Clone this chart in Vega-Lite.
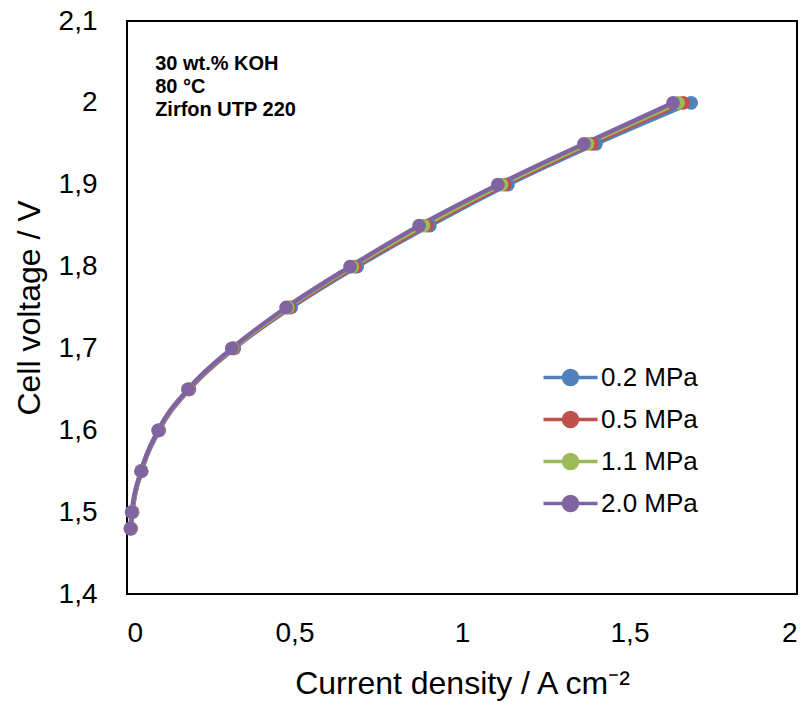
{
  "$schema": "https://vega.github.io/schema/vega-lite/v6.json",
  "width": 670,
  "height": 573,
  "autosize": "none",
  "padding": {"left": 127, "top": 21, "right": 13, "bottom": 111},
  "background": "white",
  "config": {
    "font": "Liberation Sans",
    "view": {"stroke": "black", "strokeWidth": 2},
    "axis": {"grid": false, "ticks": false, "domain": false, "labelFont": "Liberation Sans", "titleFont": "Liberation Sans", "labelFontSize": 28, "titleFontSize": 32, "labelColor": "black", "titleColor": "black", "titleFontWeight": "normal"}
  },
  "datasets": {
    "curves": [
      {"pressure": "0.2 MPa", "i": 0.012, "V": 1.48},
      {"pressure": "0.2 MPa", "i": 0.016, "V": 1.50},
      {"pressure": "0.2 MPa", "i": 0.044, "V": 1.55},
      {"pressure": "0.2 MPa", "i": 0.096, "V": 1.60},
      {"pressure": "0.2 MPa", "i": 0.186, "V": 1.65},
      {"pressure": "0.2 MPa", "i": 0.320, "V": 1.70},
      {"pressure": "0.2 MPa", "i": 0.490, "V": 1.75},
      {"pressure": "0.2 MPa", "i": 0.687, "V": 1.80},
      {"pressure": "0.2 MPa", "i": 0.904, "V": 1.85},
      {"pressure": "0.2 MPa", "i": 1.137, "V": 1.90},
      {"pressure": "0.2 MPa", "i": 1.400, "V": 1.95},
      {"pressure": "0.2 MPa", "i": 1.684, "V": 2.00},
      {"pressure": "0.5 MPa", "i": 0.012, "V": 1.48},
      {"pressure": "0.5 MPa", "i": 0.016, "V": 1.50},
      {"pressure": "0.5 MPa", "i": 0.043, "V": 1.55},
      {"pressure": "0.5 MPa", "i": 0.095, "V": 1.60},
      {"pressure": "0.5 MPa", "i": 0.185, "V": 1.65},
      {"pressure": "0.5 MPa", "i": 0.318, "V": 1.70},
      {"pressure": "0.5 MPa", "i": 0.485, "V": 1.75},
      {"pressure": "0.5 MPa", "i": 0.680, "V": 1.80},
      {"pressure": "0.5 MPa", "i": 0.895, "V": 1.85},
      {"pressure": "0.5 MPa", "i": 1.128, "V": 1.90},
      {"pressure": "0.5 MPa", "i": 1.388, "V": 1.95},
      {"pressure": "0.5 MPa", "i": 1.660, "V": 2.00},
      {"pressure": "1.1 MPa", "i": 0.011, "V": 1.48},
      {"pressure": "1.1 MPa", "i": 0.015, "V": 1.50},
      {"pressure": "1.1 MPa", "i": 0.043, "V": 1.55},
      {"pressure": "1.1 MPa", "i": 0.094, "V": 1.60},
      {"pressure": "1.1 MPa", "i": 0.183, "V": 1.65},
      {"pressure": "1.1 MPa", "i": 0.315, "V": 1.70},
      {"pressure": "1.1 MPa", "i": 0.480, "V": 1.75},
      {"pressure": "1.1 MPa", "i": 0.672, "V": 1.80},
      {"pressure": "1.1 MPa", "i": 0.885, "V": 1.85},
      {"pressure": "1.1 MPa", "i": 1.118, "V": 1.90},
      {"pressure": "1.1 MPa", "i": 1.375, "V": 1.95},
      {"pressure": "1.1 MPa", "i": 1.645, "V": 2.00},
      {"pressure": "2.0 MPa", "i": 0.010, "V": 1.48},
      {"pressure": "2.0 MPa", "i": 0.014, "V": 1.50},
      {"pressure": "2.0 MPa", "i": 0.042, "V": 1.55},
      {"pressure": "2.0 MPa", "i": 0.093, "V": 1.60},
      {"pressure": "2.0 MPa", "i": 0.182, "V": 1.65},
      {"pressure": "2.0 MPa", "i": 0.313, "V": 1.70},
      {"pressure": "2.0 MPa", "i": 0.475, "V": 1.75},
      {"pressure": "2.0 MPa", "i": 0.666, "V": 1.80},
      {"pressure": "2.0 MPa", "i": 0.872, "V": 1.85},
      {"pressure": "2.0 MPa", "i": 1.107, "V": 1.90},
      {"pressure": "2.0 MPa", "i": 1.364, "V": 1.95},
      {"pressure": "2.0 MPa", "i": 1.630, "V": 2.00}
    ],
    "note": [
      {"label": ["30 wt.% KOH", "80 °C", "Zirfon UTP 220"]}
    ]
  },
  "layer": [
    {
      "data": {"name": "curves"},
      "mark": {"type": "line", "interpolate": "monotone", "strokeWidth": 4.5},
      "encoding": {
        "x": {"field": "i", "type": "quantitative", "scale": {"domain": [0, 2], "nice": false}, "axis": {"values": [0, 0.5, 1, 1.5, 2], "labelExpr": "replace(format(datum.value, '~g'), '.', ',')", "labelPadding": 25, "title": "Current density / A cm⁻²", "titlePadding": 21}},
        "y": {"field": "V", "type": "quantitative", "scale": {"domain": [1.4, 2.1], "nice": false, "zero": false}, "axis": {"values": [1.4, 1.5, 1.6, 1.7, 1.8, 1.9, 2.0, 2.1], "labelExpr": "replace(format(datum.value, '~g'), '.', ',')", "labelPadding": 30, "title": "Cell voltage / V", "titlePadding": 12}},
        "color": {"field": "pressure", "type": "nominal", "scale": {"domain": ["0.2 MPa", "0.5 MPa", "1.1 MPa", "2.0 MPa"], "range": ["#4F81BD", "#C0504D", "#9BBB59", "#8064A2"]},
          "legend": {"title": null, "orient": "none", "legendX": 428, "legendY": 341, "labelFontSize": 26, "labelFont": "Liberation Sans", "labelColor": "black", "symbolType": "M-2,0L2,0M0.52,0A0.52,0.52 0 1,1 -0.52,0A0.52,0.52 0 1,1 0.52,0Z", "symbolSize": 729, "symbolStrokeWidth": 3.5, "rowPadding": 12, "labelOffset": 15,
            "encode": {"symbols": {"update": {"stroke": {"scale": "color", "field": "value"}, "fill": {"scale": "color", "field": "value"}, "opacity": {"value": 1}, "fillOpacity": {"value": 1}}}}}
        }
      }
    },
    {
      "data": {"name": "curves"},
      "mark": {"type": "point", "filled": true, "opacity": 1, "size": 190},
      "encoding": {
        "x": {"field": "i", "type": "quantitative"},
        "y": {"field": "V", "type": "quantitative"},
        "color": {"field": "pressure", "type": "nominal"}
      }
    },
    {
      "data": {"name": "note"},
      "mark": {"type": "text", "align": "left", "baseline": "top", "fontSize": 20, "fontWeight": "bold", "lineHeight": 23, "font": "Liberation Sans", "color": "black"},
      "encoding": {
        "x": {"datum": 0.084},
        "y": {"datum": 2.06},
        "text": {"field": "label"}
      }
    }
  ]
}
